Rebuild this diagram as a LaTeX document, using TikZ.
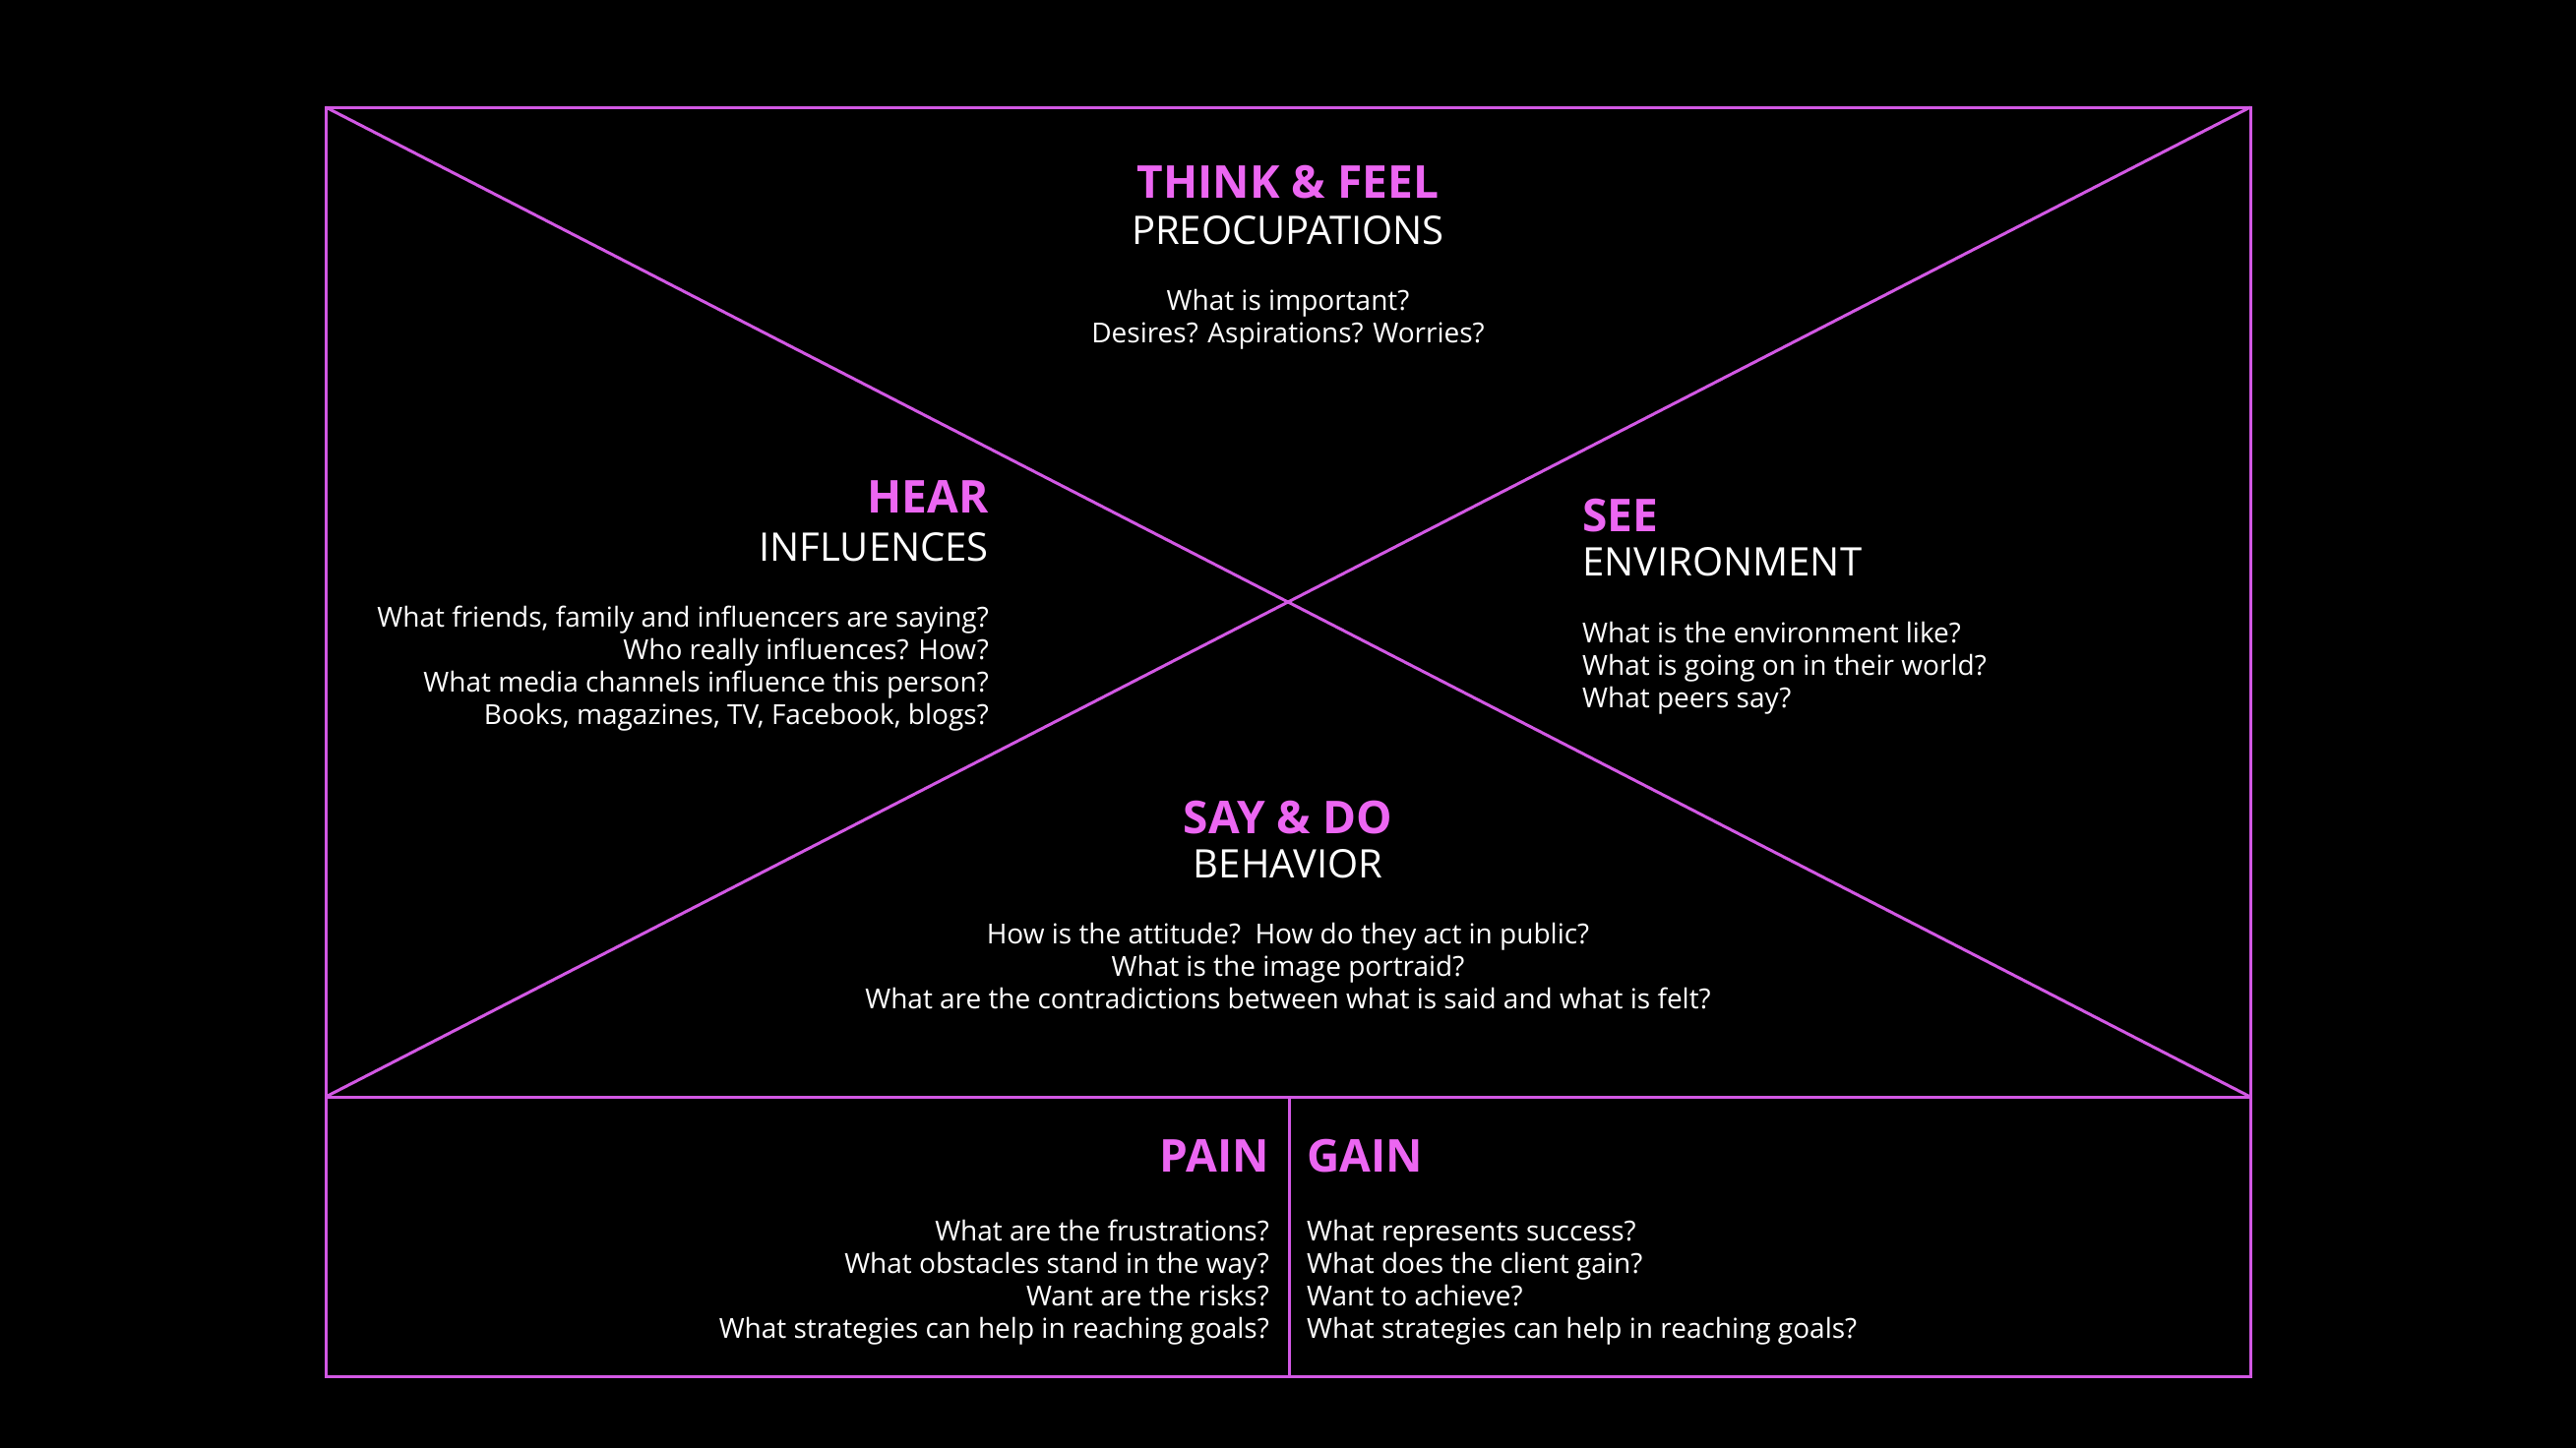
\documentclass[tikz,border=0pt]{standalone}
\usepackage{fontspec}
\setmainfont{Open Sans}
\definecolor{linec}{RGB}{210,88,228}
\definecolor{headc}{RGB}{236,102,242}
\tikzset{
  head/.style={font=\fontsize{46}{52}\bfseries\selectfont, text=headc, inner sep=0pt},
  subhead/.style={font=\fontsize{40}{46}\selectfont, text=white, inner sep=0pt},
  bodytext/.style={font=\fontsize{28}{33}\selectfont, text=white, inner sep=0pt},
  frame/.style={draw=linec, line width=3pt},
}
\begin{document}
\begin{tikzpicture}[x=1pt,y=-1pt]
\fill[black] (0,0) rectangle (2618,1472);
\useasboundingbox (0,0) rectangle (2618,1472);
% corners
\coordinate (tl) at (331,109);
\coordinate (tr) at (2287,109);
\coordinate (ml) at (331,1115);
\coordinate (mr) at (2287,1115);
\coordinate (bl) at (331,1399);
\coordinate (br) at (2287,1399);
\coordinate (mt) at (1310,1115);
\coordinate (mb) at (1310,1399);
\draw[frame] (tl) rectangle (br);
\draw[frame] (ml) -- (mr);
\draw[frame] (mt) -- (mb);
\draw[frame] (tl) -- (mr);
\draw[frame] (ml) -- (tr);
% THINK & FEEL
\node[head, anchor=base] (th) at (1309,201) {THINK \& FEEL};
\node[subhead, anchor=base] (ts) at (1309,248) {PREOCUPATIONS};
\node[bodytext, anchor=north, align=center] (tb) at (1309,292) {\strut What is important?\\\strut Desires? Aspirations? Worries?};
% HEAR
\node[head, anchor=base east] (hh) at (1005,521) {HEAR};
\node[subhead, anchor=base east] (hs) at (1005,570) {INFLUENCES};
\node[bodytext, anchor=north east, align=right] (hb) at (1005,614) {\strut What friends, family and influencers are saying?\\\strut Who really influences? How?\\\strut What media channels influence this person?\\\strut Books, magazines, TV, Facebook, blogs?};
% SEE
\node[head, anchor=base west] (sh) at (1608,540) {SEE};
\node[subhead, anchor=base west] (ss) at (1608,585) {ENVIRONMENT};
\node[bodytext, anchor=north west, align=left] (sb) at (1608,630) {\strut What is the environment like?\\\strut What is going on in their world?\\\strut What peers say?};
% SAY & DO
\node[head, anchor=base] (dh) at (1309,847) {SAY \& DO};
\node[subhead, anchor=base] (ds) at (1309,892) {BEHAVIOR};
\node[bodytext, anchor=north, align=center] (db) at (1309,936) {\strut How is the attitude?\ \ How do they act in public?\\\strut What is the image portraid?\\\strut What are the contradictions between what is said and what is felt?};
% PAIN
\node[head, anchor=base east] (ph) at (1290,1191) {PAIN};
\node[bodytext, anchor=north east, align=right] (pb) at (1290,1238) {\strut What are the frustrations?\\\strut What obstacles stand in the way?\\\strut Want are the risks?\\\strut What strategies can help in reaching goals?};
% GAIN
\node[head, anchor=base west] (gh) at (1328,1191) {GAIN};
\node[bodytext, anchor=north west, align=left] (gb) at (1328,1238) {\strut What represents success?\\\strut What does the client gain?\\\strut Want to achieve?\\\strut What strategies can help in reaching goals?};
\end{tikzpicture}
\end{document}
